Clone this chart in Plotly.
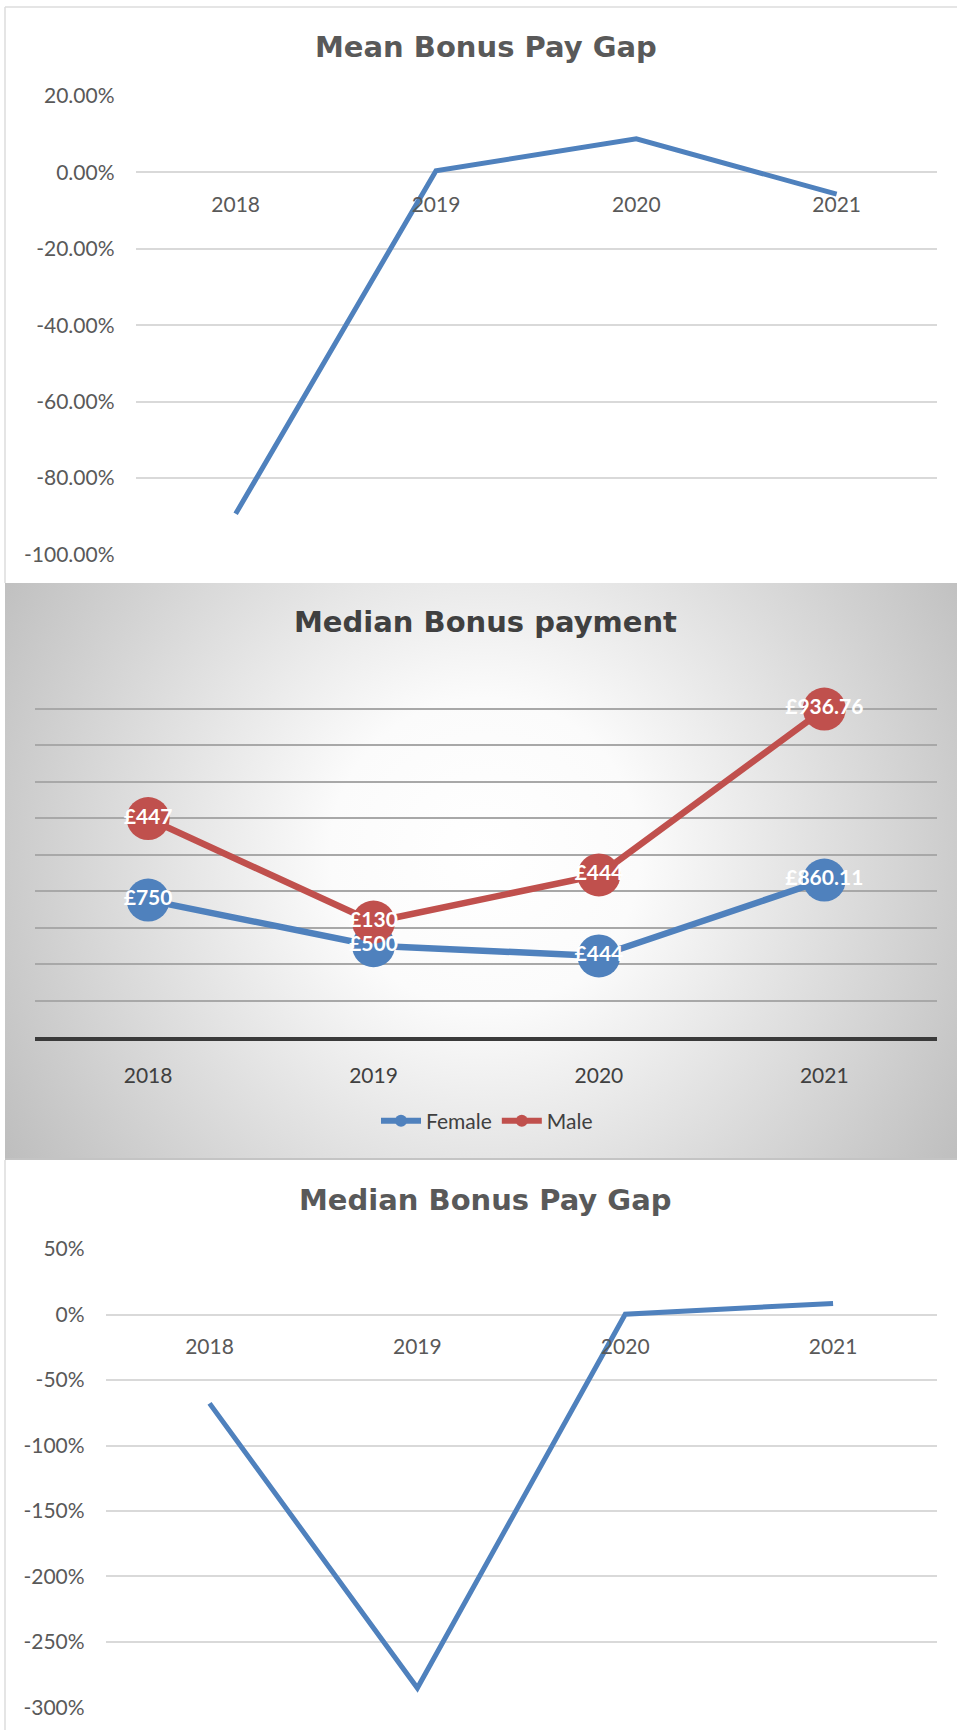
import base64
import plotly.graph_objects as go

# ---------------- data ----------------
years = ["2018", "2019", "2020", "2021"]

mean_gap = [-0.894, 0.004, 0.088, -0.057]
mean_tickvals = [0.2, 0.0, -0.2, -0.4, -0.6, -0.8, -1.0]
mean_ticktext = ["20.00%", "0.00%", "-20.00%", "-40.00%", "-60.00%", "-80.00%", "-100.00%"]

female_median = [750, 500, 444, 860.11]
male_median = [447, 130, 444, 936.76]
female_labels = ["£750", "£500", "£444", "£860.11"]
male_labels = ["£447", "£130", "£444", "£936.76"]

median_gap = [-0.678, -2.852, 0.003, 0.085]
median_tickvals = [0.5, 0.0, -0.5, -1.0, -1.5, -2.0, -2.5, -3.0]
median_ticktext = ["50%", "0%", "-50%", "-100%", "-150%", "-200%", "-250%", "-300%"]

# ---------------- geometry helpers ----------------
W, H = 957, 1730


def px(x):
    return x / W


def py(y):
    return 1 - y / H


BLUE = "#4f81bd"
RED = "#c0504d"
TICK_FONT = dict(family="Lato", size=21, color="#595959")
TITLE_FONT = dict(family="DejaVu Sans", size=29, color="#595959", weight="bold")
LABEL_FONT = dict(family="Lato", size=21, color="white", weight="bold")

fig = go.Figure()

# ---- Panel 1: Mean Bonus Pay Gap ----
fig.add_trace(go.Scatter(x=years, y=mean_gap, mode="lines", xaxis="x", yaxis="y",
                         line=dict(color=BLUE, width=5), showlegend=False, hoverinfo="skip"))

# ---- Panel 2: Median Bonus payment (stacked lines) ----
fig.add_trace(go.Scatter(x=years, y=female_median, mode="lines+markers", xaxis="x2", yaxis="y2",
                         stackgroup="pay", fill="none", name="Female",
                         line=dict(color=BLUE, width=6.5), marker=dict(color=BLUE, size=43),
                         showlegend=False, hoverinfo="skip"))
fig.add_trace(go.Scatter(x=years, y=male_median, mode="lines+markers", xaxis="x2", yaxis="y2",
                         stackgroup="pay", fill="none", name="Male",
                         line=dict(color=RED, width=6.5), marker=dict(color=RED, size=43),
                         showlegend=False, hoverinfo="skip"))
# data labels (same stacking, drawn on top of all markers)
fig.add_trace(go.Scatter(x=years, y=female_median, mode="text", xaxis="x2", yaxis="y2",
                         stackgroup="labels", fill="none", text=female_labels,
                         textposition="middle center", textfont=LABEL_FONT,
                         showlegend=False, hoverinfo="skip"))
fig.add_trace(go.Scatter(x=years, y=male_median, mode="text", xaxis="x2", yaxis="y2",
                         stackgroup="labels", fill="none", text=male_labels,
                         textposition="middle center", textfont=LABEL_FONT,
                         showlegend=False, hoverinfo="skip"))
# legend entries
fig.add_trace(go.Scatter(x=[None], y=[None], mode="lines+markers", name="Female", xaxis="x2", yaxis="y2",
                         line=dict(color=BLUE, width=6), marker=dict(color=BLUE, size=12)))
fig.add_trace(go.Scatter(x=[None], y=[None], mode="lines+markers", name="Male", xaxis="x2", yaxis="y2",
                         line=dict(color=RED, width=6), marker=dict(color=RED, size=12)))

# ---- Panel 3: Median Bonus Pay Gap ----
fig.add_trace(go.Scatter(x=years, y=median_gap, mode="lines", xaxis="x3", yaxis="y3",
                         line=dict(color=BLUE, width=5), showlegend=False, hoverinfo="skip"))

# ---------------- background gradient for panel 2 ----------------
svg = ('<svg xmlns="http://www.w3.org/2000/svg" width="952" height="576" viewBox="0 0 952 576" '
       'preserveAspectRatio="none"><defs><radialGradient id="g" gradientUnits="userSpaceOnUse" '
       'cx="480" cy="270" r="620"><stop offset="0" stop-color="#ffffff"/>'
       '<stop offset="0.25" stop-color="#fbfbfb"/><stop offset="1" stop-color="#b6b6b6"/>'
       '</radialGradient></defs><rect width="952" height="576" fill="url(#g)"/></svg>')
svg_uri = "data:image/svg+xml;base64," + base64.b64encode(svg.encode()).decode()

common_x = dict(type="category", range=[-0.5, 3.5], showgrid=False, zeroline=False, showline=False,
                tickfont=TICK_FONT, ticks="", ticklabelstandoff=17, fixedrange=True,
                automargin=False)

fig.update_layout(
    width=W, height=H,
    autosize=False,
    margin=dict(l=0, r=0, t=0, b=0, pad=0, autoexpand=False),
    paper_bgcolor="white",
    plot_bgcolor="rgba(0,0,0,0)",
    showlegend=True,
    legend=dict(orientation="h", x=px(487), y=py(1121), xanchor="center", yanchor="middle",
                font=dict(family="Lato", size=21, color="#404040"), bgcolor="rgba(0,0,0,0)",
                itemwidth=40, traceorder="normal"),
    # panel 1
    xaxis=dict(common_x, domain=[px(135.5), px(936.8)], anchor="free", position=py(172.7)),
    yaxis=dict(domain=[py(554.3), py(96)], range=[-1.0, 0.2], tickvals=mean_tickvals,
               ticktext=mean_ticktext, showgrid=True, gridcolor="#d9d9d9", gridwidth=1.5,
               zeroline=False, showline=False, tickfont=TICK_FONT, ticklabelstandoff=20,
               anchor="x", fixedrange=True, automargin=False),
    # panel 2
    xaxis2=dict(common_x, domain=[px(35.4), px(937)], anchor="y2", showline=True,
                linecolor="#3a3a3a", linewidth=3.5,
                tickfont=dict(family="Lato", size=21, color="#404040")),
    yaxis2=dict(domain=[py(1037), py(672)], range=[0, 2000], dtick=200, showticklabels=False,
                showgrid=True, gridcolor="#a8a8a8", gridwidth=2, zeroline=False, showline=False,
                anchor="x2", fixedrange=True, automargin=False),
    # panel 3
    xaxis3=dict(common_x, domain=[px(105.6), px(937)], anchor="free", position=py(1314.6)),
    yaxis3=dict(domain=[py(1707.4), py(1249.1)], range=[-3.0, 0.5], tickvals=median_tickvals,
                ticktext=median_ticktext, showgrid=True, gridcolor="#d9d9d9", gridwidth=1.5,
                zeroline=False, showline=False, tickfont=TICK_FONT, ticklabelstandoff=20,
                anchor="x3", fixedrange=True, automargin=False),
    images=[dict(source=svg_uri, xref="paper", yref="paper", x=px(5), y=py(583),
                 sizex=px(952), sizey=576 / H, xanchor="left", yanchor="top",
                 sizing="stretch", layer="below")],
    shapes=[
        dict(type="line", xref="paper", yref="paper", x0=px(5), x1=1, y0=py(7), y1=py(7),
             line=dict(color="#dcdcdc", width=1.5)),
        dict(type="line", xref="paper", yref="paper", x0=px(5), x1=px(5), y0=py(7), y1=py(583),
             line=dict(color="#dcdcdc", width=1.5)),
        dict(type="line", xref="paper", yref="paper", x0=px(5), x1=1, y0=py(1159), y1=py(1159),
             line=dict(color="#c4c4c4", width=2)),
        dict(type="line", xref="paper", yref="paper", x0=px(5), x1=px(5), y0=py(1160), y1=0,
             line=dict(color="#dcdcdc", width=1.5)),
    ],
    annotations=[
        dict(text="Mean Bonus Pay Gap", xref="paper", yref="paper", x=px(485.5), y=py(47),
             xanchor="center", yanchor="middle", showarrow=False, font=TITLE_FONT),
        dict(text="Median Bonus payment", xref="paper", yref="paper", x=px(485), y=py(622),
             xanchor="center", yanchor="middle", showarrow=False,
             font=dict(TITLE_FONT, color="#404040")),
        dict(text="Median Bonus Pay Gap", xref="paper", yref="paper", x=px(485), y=py(1200),
             xanchor="center", yanchor="middle", showarrow=False, font=TITLE_FONT),
    ],
)

fig.write_html("out.html")
